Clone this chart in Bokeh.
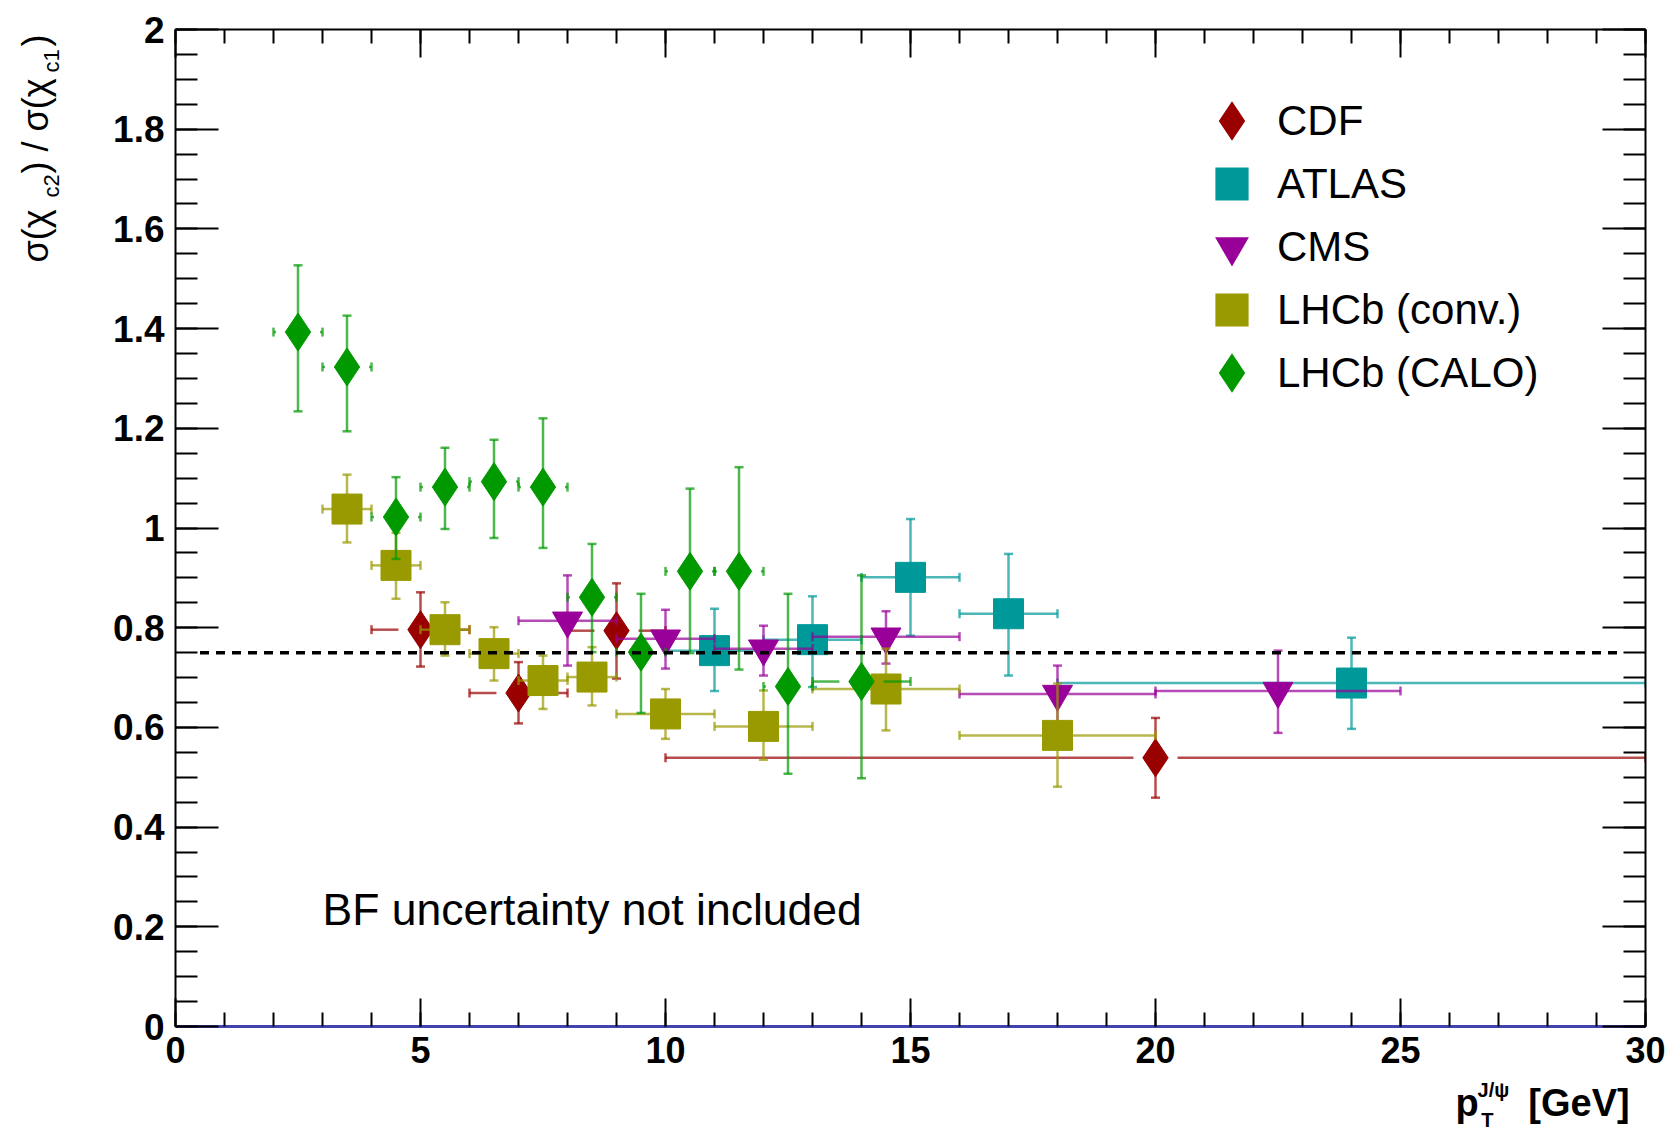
import math
import numpy as np
from bokeh.plotting import figure
from bokeh.layouts import row, column
from bokeh.models import (SingleIntervalTicker, LinearAxis, NumeralTickFormatter,
                          CustomJSTickFormatter, Label, Legend, LegendItem, Range1d)
from bokeh.embed import file_html
from bokeh.resources import INLINE

# ---------------- data ----------------
cdf_x = [5, 7, 9, 20]
cdf_y = [0.796, 0.669, 0.794, 0.539]
cdf_ylo = [0.722, 0.608, 0.698, 0.459]
cdf_yhi = [0.871, 0.731, 0.889, 0.619]
cdf_xlo = [4, 6, 8, 10]
cdf_xhi = [6, 8, 10, 30]

atlas_x = [11, 13, 15, 17, 24]
atlas_y = [0.754, 0.776, 0.901, 0.828, 0.689]
atlas_ylo = [0.673, 0.681, 0.784, 0.704, 0.597]
atlas_yhi = [0.838, 0.863, 1.018, 0.948, 0.780]
atlas_xlo = [10, 12, 14, 16, 18]
atlas_xhi = [12, 14, 16, 18, 30]

cms_x = [8, 10, 12, 14.5, 18, 22.5]
cms_y = [0.814, 0.778, 0.758, 0.782, 0.667, 0.673]
cms_ylo = [0.724, 0.718, 0.704, 0.728, 0.610, 0.589]
cms_yhi = [0.905, 0.836, 0.804, 0.833, 0.724, 0.754]
cms_xlo = [7, 9, 11, 13, 16, 20]
cms_xhi = [9, 11, 13, 16, 20, 25]

conv_x = [3.5, 4.5, 5.5, 6.5, 7.5, 8.5, 10, 12, 14.5, 18]
conv_y = [1.038, 0.925, 0.796, 0.748, 0.694, 0.701, 0.627, 0.602, 0.677, 0.584]
conv_ylo = [0.971, 0.858, 0.744, 0.694, 0.637, 0.644, 0.577, 0.535, 0.594, 0.481]
conv_yhi = [1.107, 0.990, 0.851, 0.801, 0.744, 0.761, 0.677, 0.674, 0.758, 0.688]
conv_xlo = [3, 4, 5, 6, 7, 8, 9, 11, 13, 16]
conv_xhi = [4, 5, 6, 7, 8, 9, 11, 13, 16, 20]

calo_x = [2.5, 3.5, 4.5, 5.5, 6.5, 7.5, 8.5, 9.5, 10.5, 11.5, 12.5, 14]
calo_y = [1.393, 1.323, 1.022, 1.082, 1.093, 1.082, 0.861, 0.751, 0.913, 0.913, 0.682, 0.692]
calo_ylo = [1.234, 1.194, 0.938, 0.998, 0.980, 0.960, 0.751, 0.629, 0.749, 0.716, 0.507, 0.498]
calo_yhi = [1.527, 1.426, 1.102, 1.161, 1.177, 1.220, 0.968, 0.868, 1.079, 1.122, 0.868, 0.905]
calo_xlo = [2, 3, 4, 5, 6, 7, 8, 9, 10, 11, 12, 13]
calo_xhi = [3, 4, 5, 6, 7, 8, 9, 10, 11, 12, 13, 15]

ref_x = [0.5, 29.5]
ref_y = [0.75, 0.75]

series_names = ["CDF", "ATLAS", "CMS", "LHCb (conv.)", "LHCb (CALO)"]
series_colors = ["#990000", "#009999", "#990099", "#999900", "#009900"]
series_markers = ["diamond", "square", "inverted_triangle", "square", "diamond"]

FONT = "Liberation Sans"

# ---------------- layout sizes ----------------
W, H = 1665, 1131
LEFT_STRIP = 72          # strip holding the y-axis title
BOTTOM_STRIP = 53        # strip holding the x-axis title
MAIN_W = W - LEFT_STRIP
MAIN_H = H - BOTTOM_STRIP

# ---------------- main figure ----------------
p = figure(width=MAIN_W, height=MAIN_H, x_range=(0, 30), y_range=(0, 2),
           output_backend="svg", toolbar_location=None,
           min_border_left=103, min_border_right=20, min_border_top=29,
           min_border_bottom=52, x_axis_location=None, y_axis_location=None)
p.xgrid.visible = False
p.ygrid.visible = False
p.outline_line_color = None
p.background_fill_color = "white"
p.border_fill_color = "white"


def make_axis(kind, labels=True, line_color="black", line_width=2):
    if kind == "x":
        t = SingleIntervalTicker(interval=5, num_minor_ticks=5)
        ax = LinearAxis(ticker=t, major_tick_in=28, minor_tick_in=14)
    else:
        t = SingleIntervalTicker(interval=0.2, num_minor_ticks=4)
        ax = LinearAxis(ticker=t, major_tick_in=43, minor_tick_in=22)
    ax.major_tick_out = 0
    ax.minor_tick_out = 0
    ax.axis_line_width = line_width
    ax.axis_line_color = line_color
    ax.major_tick_line_width = 2
    ax.minor_tick_line_width = 2
    ax.major_tick_line_color = "black"
    ax.minor_tick_line_color = "black"
    if labels:
        ax.major_label_text_font = FONT
        ax.major_label_text_font_style = "bold"
        ax.major_label_text_font_size = "36px"
        ax.major_label_text_color = "black"
        if kind == "y":
            ax.formatter = NumeralTickFormatter(format="0.[0]")
            ax.major_label_standoff = 11
            ax.major_label_text_font_size = "37px"
        else:
            ax.major_label_standoff = 10
    else:
        ax.formatter = CustomJSTickFormatter(code="return ''")
        ax.major_label_text_font_size = "1px"
        ax.major_label_standoff = 0
    return ax


p.add_layout(make_axis("x", line_color="#4343b0", line_width=3), "below")
p.add_layout(make_axis("y"), "left")
p.add_layout(make_axis("x", labels=False), "above")
p.add_layout(make_axis("y", labels=False), "right")


def draw_series(x, y, ylo, yhi, xlo, xhi, color, marker, size, gap):
    x = np.asarray(x, float)
    y = np.asarray(y, float)
    ylo = np.asarray(ylo, float)
    yhi = np.asarray(yhi, float)
    xlo = np.asarray(xlo, float)
    xhi = np.asarray(xhi, float)
    kw = dict(line_color=color, line_alpha=0.7, line_width=2.5)
    # vertical error bars
    p.segment(x0=x, y0=ylo, x1=x, y1=yhi, **kw)
    # horizontal error bars (with a gap around the marker)
    p.segment(x0=xlo, y0=y, x1=np.maximum(xlo, x - gap), y1=y, **kw)
    p.segment(x0=np.minimum(xhi, x + gap), y0=y, x1=xhi, y1=y, **kw)
    # end caps
    p.scatter(x=np.concatenate([x, x]), y=np.concatenate([ylo, yhi]),
              marker="dash", size=9, **kw)
    p.scatter(x=np.concatenate([xlo, xhi]), y=np.concatenate([y, y]),
              marker="dash", angle=math.pi / 2, size=9, **kw)
    # markers
    p.scatter(x=x, y=y, marker=marker, size=size,
              fill_color=color, line_color=color, line_width=1)


draw_series(cdf_x, cdf_y, cdf_ylo, cdf_yhi, cdf_xlo, cdf_xhi,
            series_colors[0], series_markers[0], 38, 0.45)
draw_series(atlas_x, atlas_y, atlas_ylo, atlas_yhi, atlas_xlo, atlas_xhi,
            series_colors[1], series_markers[1], 30, 0.0)
draw_series(cms_x, cms_y, cms_ylo, cms_yhi, cms_xlo, cms_xhi,
            series_colors[2], series_markers[2], 30, 0.0)
draw_series(conv_x, conv_y, conv_ylo, conv_yhi, conv_xlo, conv_xhi,
            series_colors[3], series_markers[3], 30, 0.0)
draw_series(calo_x, calo_y, calo_ylo, calo_yhi, calo_xlo, calo_xhi,
            series_colors[4], series_markers[4], 38, 0.45)

# reference line
p.line(x=ref_x, y=ref_y, line_color="black", line_width=3.5, line_dash="9 7")

# legend (proxy renderers carry a thicker outline so the legend symbols are larger)
legend_line_widths = [8, 8, 5, 8, 8]
nan_xy = [float("nan")]
items = []
for name, color, marker, lw in zip(series_names, series_colors, series_markers,
                                   legend_line_widths):
    r = p.scatter(x=nan_xy, y=nan_xy, marker=marker, size=10, fill_color=color,
                  line_color=color, line_width=lw, line_join="miter")
    items.append(LegendItem(label=name, renderers=[r]))
legend = Legend(items=items, location=(1025, 622), glyph_width=63, glyph_height=63,
                label_height=63, spacing=0, padding=0, margin=0, label_standoff=14,
                label_text_font=FONT, label_text_font_size="42px",
                label_text_color="black", border_line_alpha=0,
                background_fill_alpha=0)
p.add_layout(legend)

# annotation text
p.add_layout(Label(x=3.0, y=0.2355, text="BF uncertainty not included",
                   text_font=FONT, text_font_size="44.5px", text_color="black",
                   text_baseline="middle", text_align="left"))

# ---------------- left strip: y-axis title ----------------
ly = figure(width=LEFT_STRIP, height=H, x_range=Range1d(0, LEFT_STRIP),
            y_range=Range1d(H, 0), output_backend="svg", toolbar_location=None,
            min_border=0, min_border_left=0, min_border_right=0,
            min_border_top=0, min_border_bottom=0,
            x_axis_location=None, y_axis_location=None)
ly.outline_line_color = None
ly.xgrid.visible = False
ly.ygrid.visible = False
ytitle = [
    ("σ(χ", 262, 35.2, "36px"),
    ("c2", 197, 51.3, "22px"),
    (") / σ(χ", 173, 35.2, "36px"),
    ("c1", 72, 51.3, "22px"),
    (")", 46, 35.2, "36px"),
]
for txt, yy, xx, fs in ytitle:
    ly.add_layout(Label(x=xx, y=yy, text=txt, angle=math.pi / 2,
                        text_font=FONT, text_font_size=fs, text_color="black",
                        text_baseline="middle", text_align="left"))

# ---------------- bottom strip: x-axis title ----------------
bx = figure(width=MAIN_W, height=BOTTOM_STRIP, x_range=Range1d(LEFT_STRIP, W),
            y_range=Range1d(H, MAIN_H), output_backend="svg", toolbar_location=None,
            min_border=0, min_border_left=0, min_border_right=0,
            min_border_top=0, min_border_bottom=0,
            x_axis_location=None, y_axis_location=None)
bx.outline_line_color = None
bx.xgrid.visible = False
bx.ygrid.visible = False
xtitle = [
    ("p", 1459, 1102.7, "38px"),
    ("J/ψ", 1483, 1089.8, "20px"),
    ("T", 1487, 1119.3, "20px"),
    ("[GeV]", 1538, 1102.7, "38px"),
]
for txt, xx, yy, fs in xtitle:
    bx.add_layout(Label(x=xx, y=yy, text=txt, text_font=FONT, text_font_size=fs,
                        text_font_style="bold", text_color="black",
                        text_baseline="middle", text_align="left"))

layout = row(ly, column(p, bx))
open("out.html", "w").write(file_html(layout, INLINE))
